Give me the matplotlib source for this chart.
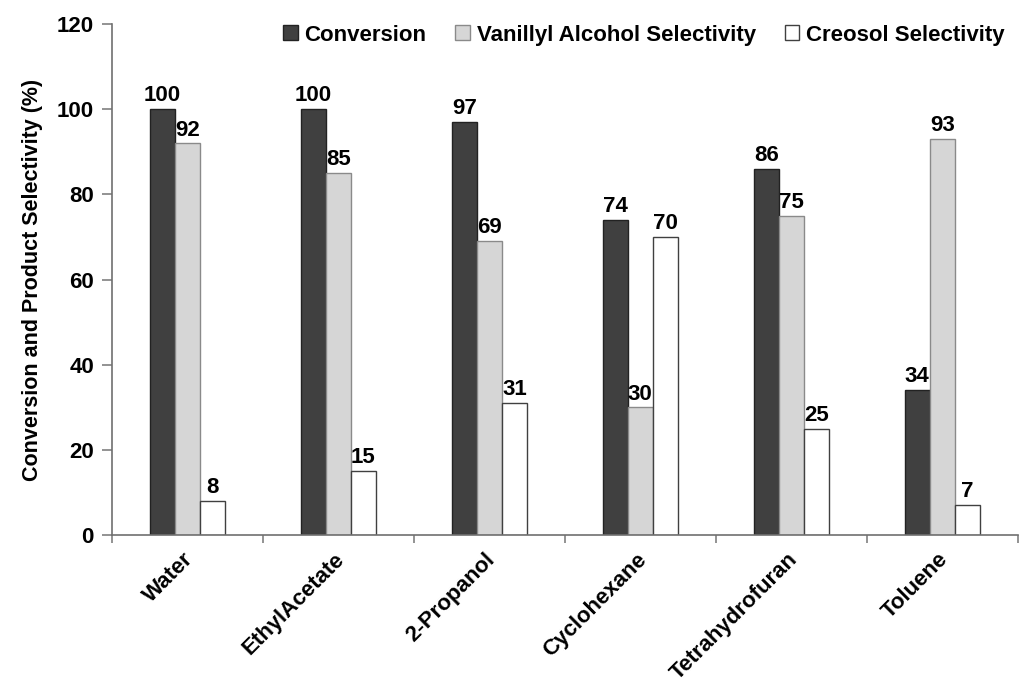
import matplotlib
matplotlib.use("Agg")
import matplotlib.pyplot as plt
import numpy as np

solvents = ["Water", "EthylAcetate", "2-Propanol", "Cyclohexane", "Tetrahydrofuran", "Toluene"]
conversion = [100, 100, 97, 74, 86, 34]
vanillyl_sel = [92, 85, 69, 30, 75, 93]
creosol_sel = [8, 15, 31, 70, 25, 7]

series = [
    ("Conversion", conversion, "#404040", "#222222"),
    ("Vanillyl Alcohol Selectivity", vanillyl_sel, "#d6d6d6", "#8a8a8a"),
    ("Creosol Selectivity", creosol_sel, "#ffffff", "#404040"),
]

plt.rcParams["font.family"] = ["Liberation Sans", "DejaVu Sans"]
plt.rcParams["font.weight"] = "bold"

fig = plt.figure(figsize=(10.21, 6.84), dpi=100)
ax = fig.add_axes([0.1097, 0.2178, 0.887, 0.747])

x = np.arange(len(solvents))
width = 0.166
for i, (name, vals, fc, ec) in enumerate(series):
    pos = x + (i - 1) * width
    bars = ax.bar(pos, vals, width, color=fc, edgecolor=ec, linewidth=1.0, label=name)
    for b, v in zip(bars, vals):
        ax.annotate(f"{v}", (b.get_x() + b.get_width() / 2, v), xytext=(0, 2),
                    textcoords="offset points", ha="center", va="bottom",
                    fontsize=16, fontweight="bold")

ax.set_xlim(-0.5, len(solvents) - 0.5)
ax.set_ylim(0, 120)
ax.set_yticks(np.arange(0, 121, 20))
ax.set_xticks(np.arange(-0.5, len(solvents), 1.0))
ax.set_xticklabels([])
ax.set_xticks(x - 0.03, minor=True)
ax.set_xticklabels(solvents, minor=True, rotation=45, ha="right",
                   rotation_mode="anchor", fontsize=16, fontweight="bold")
ax.tick_params(axis="x", which="minor", length=0, pad=10)
ax.tick_params(axis="x", which="major", length=6, color="#808080", width=1.2)
ax.tick_params(axis="y", length=7, color="#808080", width=1.2, labelsize=16, pad=6)
for lbl in ax.get_yticklabels():
    lbl.set_fontweight("bold")

for s in ("top", "right"):
    ax.spines[s].set_visible(False)
for s in ("left", "bottom"):
    ax.spines[s].set_color("#707070")
    ax.spines[s].set_linewidth(1.2)

ax.set_ylabel("Conversion and Product Selectivity (%)", fontsize=15.5,
              fontweight="bold", labelpad=10)

ax.legend(loc="upper right", ncol=3, frameon=False,
          handlelength=0.65, handleheight=0.65, handletextpad=0.3,
          columnspacing=1.3, bbox_to_anchor=(1.0, 1.025), borderaxespad=0.2,
          prop={"weight": "bold", "size": 16})

fig.savefig("out.png", dpi=100)
